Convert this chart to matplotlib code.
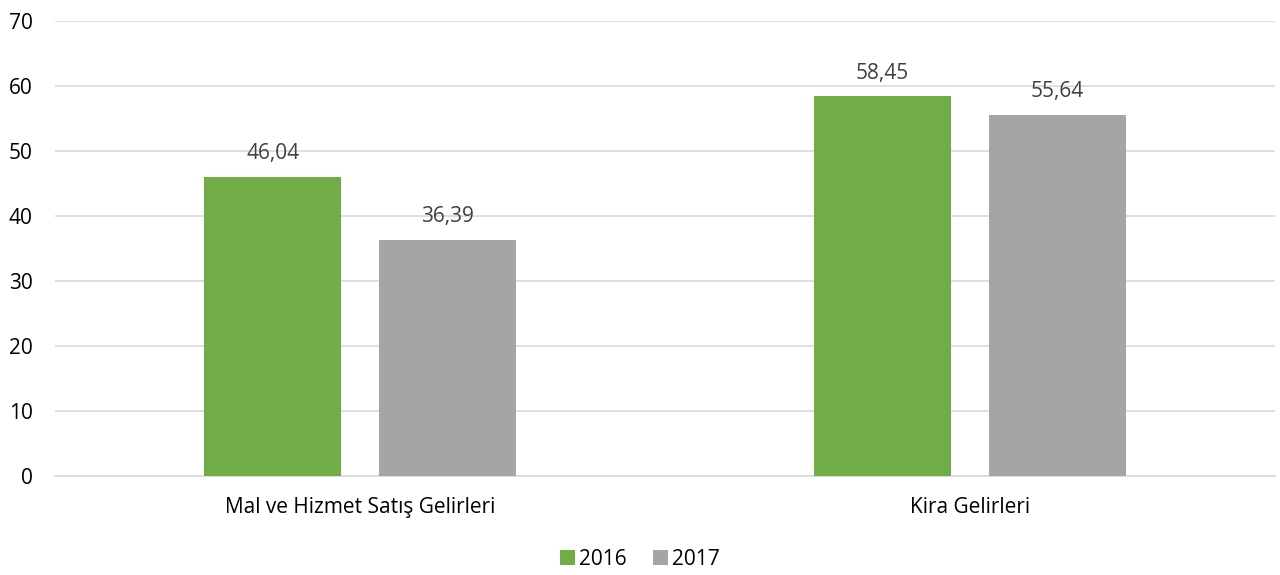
import matplotlib.pyplot as plt
import numpy as np

plt.rcParams["font.family"] = ["Open Sans", "DejaVu Sans"]

kategoriler = ["Mal ve Hizmet Satış Gelirleri", "Kira Gelirleri"]
yillar = ["2016", "2017"]
degerler_2016 = [46.04, 58.45]
degerler_2017 = [36.39, 55.64]
renkler = ["#70AD47", "#A5A5A5"]

fig = plt.figure(figsize=(12.8, 5.75), dpi=100)
ax = fig.add_axes([0.043, 0.172, 0.953, 0.791])

x = np.arange(len(kategoriler))
genislik = 0.225
kaydirma = 0.143

for i, (yil, degerler) in enumerate(zip(yillar, [degerler_2016, degerler_2017])):
    konum = x + (kaydirma if i else -kaydirma)
    cubuklar = ax.bar(konum, degerler, genislik, color=renkler[i], label=yil, zorder=3)
    for c, d in zip(cubuklar, degerler):
        ax.annotate(f"{d:.2f}".replace(".", ","),
                    (c.get_x() + c.get_width() / 2, d),
                    xytext=(0, 9), textcoords="offset points",
                    ha="center", va="bottom", fontsize=15, color="#404040")

ax.set_xlim(-0.5, 1.5)
ax.set_ylim(0, 70)
ax.set_yticks(range(0, 71, 10))
ax.set_xticks(x)
ax.set_xticklabels(kategoriler)
ax.grid(axis="y", color="#D9D9D9", linewidth=1.2, zorder=0)
for s in ["top", "right", "left"]:
    ax.spines[s].set_visible(False)
ax.spines["bottom"].set_color("#D9D9D9")
ax.spines["bottom"].set_linewidth(1.2)
ax.tick_params(axis="both", length=0, labelsize=15, labelcolor="#000000")
ax.tick_params(axis="x", pad=15)
ax.tick_params(axis="y", pad=16)

fig.legend(loc="lower center", bbox_to_anchor=(0.5, -0.024), ncol=2, frameon=False,
           fontsize=15, handlelength=0.7, handleheight=0.7, handletextpad=0.2,
           columnspacing=1.3)

fig.savefig("out.png", dpi=100)
